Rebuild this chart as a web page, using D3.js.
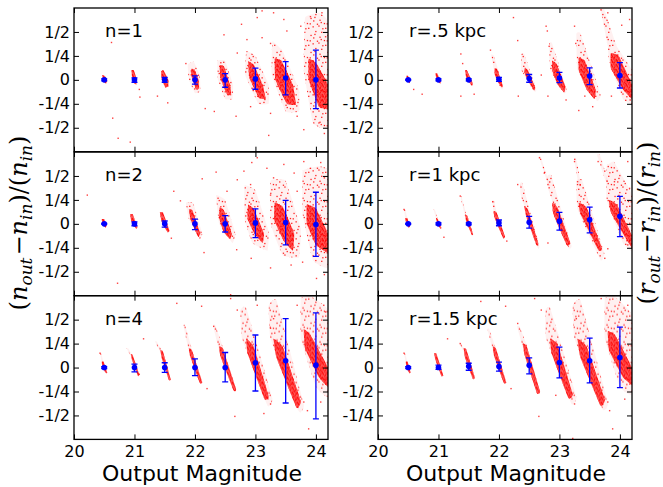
<!DOCTYPE html>
<html>
<head>
<meta charset="utf-8">
<script src="https://d3js.org/d3.v7.min.js"></script>
<style>
	body { margin:0; background:#fff; }
	svg { font-family: "DejaVu Sans", sans-serif; }
</style>
</head>
<body>
<script>
// ---------- data ----------
var magnitudes = [20.5, 21, 21.5, 22, 22.5, 23, 23.5, 24];
var xTicks = [20, 21, 22, 23, 24];
var yTickValues = [0.5, 0.25, 0, -0.25, -0.5];
var yTickLabels = ["1/2", "1/4", "0", "-1/4", "-1/2"];
var yTickLabelsLast = ["1/2", "1/4", "0", "-1/2", "-1/4"];   // as printed on the r=1.5 kpc panel
var panelLabels = ["n=1", "r=.5 kpc", "n=2", "r=1 kpc", "n=4", "r=1.5 kpc"];

// blue points: mean and error bar ends
var n1Mean = [0, 0, 0, 0, 0, 0.01, 0.02, 0];
var n1Lo   = [-0.01, -0.025, -0.025, -0.045, -0.077, -0.098, -0.157, -0.30];
var n1Hi   = [0.01, 0.02, 0.025, 0.042, 0.066, 0.122, 0.19, 0.31];
var r05Mean = [0, 0, 0, 0.005, 0.014, 0.02, 0.04, 0.045];
var r05Lo   = [-0.005, -0.01, -0.01, -0.015, -0.025, -0.03, -0.05, -0.085];
var r05Hi   = [0.005, 0.01, 0.01, 0.025, 0.056, 0.077, 0.126, 0.18];
var n2Mean = [0, 0, 0, 0, 0, 0.01, 0.014, -0.007];
var n2Lo   = [-0.005, -0.02, -0.035, -0.06, -0.085, -0.143, -0.22, -0.34];
var n2Hi   = [0.005, 0.02, 0.03, 0.05, 0.085, 0.157, 0.245, 0.33];
var r1Mean = [0, 0, 0, 0.01, 0.017, 0.028, 0.042, 0.08];
var r1Lo   = [-0.005, -0.01, -0.01, -0.02, -0.045, -0.066, -0.094, -0.133];
var r1Hi   = [0.005, 0.01, 0.01, 0.04, 0.077, 0.12, 0.175, 0.287];
var n4Mean = [0, 0, 0, 0, 0, 0.05, 0.07, 0.025];
var n4Lo   = [-0.01, -0.045, -0.05, -0.085, -0.15, -0.245, -0.37, -0.535];
var n4Hi   = [0.01, 0.035, 0.05, 0.09, 0.157, 0.34, 0.51, 0.57];
var r15Mean = [0, 0, 0.014, 0.01, 0.024, 0.052, 0.07, 0.105];
var r15Lo   = [-0.01, -0.02, -0.028, -0.038, -0.066, -0.108, -0.16, -0.21];
var r15Hi   = [0.01, 0.025, 0.045, 0.056, 0.1, 0.213, 0.308, 0.423];

// dense cores of the red clouds (outline points, magnitude / fraction)
var n1Core = [
	[[20.47,0.05],[20.51,0.04],[20.55,-0.01],[20.53,-0.04],[20.48,-0.01]],
	[[20.95,0.1],[20.99,0.1],[21.04,0.0],[21.03,-0.05],[20.97,-0.02]],
	[[21.44,0.09],[21.48,0.1],[21.56,0.0],[21.56,-0.07],[21.51,-0.08],[21.45,0.0]],
	[[21.93,0.1],[21.99,0.11],[22.06,0.0],[22.07,-0.09],[22.02,-0.1],[21.95,0.02]],
	[[22.41,0.15],[22.48,0.14],[22.58,-0.05],[22.6,-0.16],[22.53,-0.15],[22.42,0.02]],
	[[22.88,0.19],[22.97,0.16],[23.12,-0.05],[23.17,-0.2],[23.06,-0.19],[22.9,0.02]],
	[[23.32,0.22],[23.43,0.2],[23.62,-0.05],[23.67,-0.26],[23.52,-0.25],[23.33,0.0]],
	[[23.88,0.22],[24.0,0.18],[24.2,-0.05],[24.2,-0.3],[24.05,-0.28],[23.88,0.0]]
];
var n1Halo = [
	[[21.88,0.16],[21.98,0.19],[22.08,0.05],[22.09,-0.12],[22.0,-0.14],[21.9,0.0]],
	[[22.37,0.2],[22.5,0.2],[22.63,-0.05],[22.62,-0.2],[22.5,-0.2],[22.38,0.0]],
	[[22.85,0.3],[23.0,0.25],[23.22,-0.05],[23.22,-0.25],[23.05,-0.25],[22.83,0.05]],
	[[23.28,0.4],[23.45,0.3],[23.72,-0.1],[23.72,-0.33],[23.5,-0.33],[23.27,0.05]],
	[[23.82,0.65],[24.05,0.7],[24.2,0.6],[24.2,-0.5],[23.95,-0.45],[23.8,0.1]]
];
var n1Dots = [[20.62,0.39],[20.73,-0.61],[20.64,-0.4],[20.93,-0.65],[21.08,-0.1],[21.09,-0.18],[21.55,-0.24],
	[21.38,-0.17],[21.85,0.17],[22.17,-0.3],[22.32,-0.33],[22.68,-0.38],[22.77,0.58],[22.86,0.42],[22.48,0.47],
	[23.11,0.44],[23.22,-0.58],[22.92,-0.28],[23.03,0.65],[23.11,0.72],[23.3,0.7],[23.47,0.63],[23.25,0.38],
	[23.52,0.51],[23.75,0.56],[23.91,0.66],[24.1,0.7],[24.16,0.45],[23.25,-0.35],[23.69,-0.38],[23.8,-0.52],
	[24.05,-0.45],[24.14,-0.56],[23.36,0.14],[22.7,0.28]];

var r05Core = [
	[[20.47,0.04],[20.5,0.04],[20.53,-0.02],[20.52,-0.035],[20.48,0.0]],
	[[20.95,0.07],[20.98,0.07],[21.04,-0.02],[21.03,-0.04],[20.97,0.0]],
	[[21.44,0.1],[21.47,0.1],[21.57,-0.04],[21.55,-0.06],[21.46,0.02]],
	[[21.93,0.12],[21.97,0.11],[22.06,-0.05],[22.05,-0.08],[21.98,-0.02],[21.93,0.06]],
	[[22.43,0.13],[22.48,0.1],[22.6,-0.08],[22.58,-0.11],[22.47,0.0],[22.42,0.08]],
	[[22.88,0.2],[22.95,0.17],[23.1,-0.07],[23.08,-0.13],[22.97,-0.05],[22.88,0.1]],
	[[23.32,0.23],[23.42,0.2],[23.6,-0.1],[23.58,-0.2],[23.45,-0.1],[23.32,0.1]],
	[[23.85,0.28],[23.98,0.25],[24.2,-0.05],[24.2,-0.2],[24.05,-0.1],[23.85,0.12]]
];
var r05Halo = [
	[[21.87,0.26],[21.92,0.25],[22.07,-0.07],[22.05,-0.1],[21.95,0.0]],
	[[22.37,0.27],[22.42,0.27],[22.62,-0.1],[22.58,-0.12],[22.37,0.1]],
	[[22.83,0.38],[22.88,0.38],[23.12,-0.1],[23.08,-0.14],[22.85,0.1]],
	[[23.28,0.48],[23.35,0.48],[23.68,-0.15],[23.62,-0.22],[23.3,0.1]],
	[[23.68,0.74],[23.74,0.74],[23.95,0.35],[24.2,0.1],[24.2,-0.25],[24.05,-0.2],[23.82,0.2],[23.8,0.35]]
];
var r05Dots = [[20.59,-0.1],[20.73,-0.15],[21.37,0.27],[21.4,0.17],[21.37,-0.17],[21.59,-0.15],[21.86,0.31],
	[22.24,0.65],[22.31,0.41],[22.32,-0.17],[22.7,0.05],[22.78,0.56],[22.8,0.51],[22.81,-0.17],[22.83,0.35],
	[23.25,0.56],[23.27,0.38],[23.32,-0.32],[23.42,-0.17],[23.69,0.73],[23.75,0.65],[23.8,0.7],[24.03,0.57],
	[24.16,0.63],[23.86,-0.17],[24.17,-0.21],[23.11,-0.21],[23.55,-0.28]];

var n2Core = [
	[[20.46,0.05],[20.5,0.05],[20.54,-0.02],[20.52,-0.04],[20.47,0.0]],
	[[20.93,0.1],[20.97,0.1],[21.05,-0.03],[21.03,-0.05],[20.95,0.02]],
	[[21.42,0.12],[21.47,0.12],[21.58,-0.07],[21.55,-0.09],[21.45,0.02]],
	[[21.9,0.15],[21.96,0.14],[22.09,-0.1],[22.05,-0.13],[21.93,0.04]],
	[[22.41,0.17],[22.48,0.14],[22.61,-0.1],[22.58,-0.16],[22.47,-0.08],[22.4,0.06]],
	[[22.88,0.2],[22.97,0.16],[23.14,-0.1],[23.12,-0.2],[22.98,-0.1],[22.87,0.05]],
	[[23.32,0.22],[23.45,0.18],[23.64,-0.1],[23.62,-0.28],[23.47,-0.18],[23.31,0.04]],
	[[23.85,0.2],[24.0,0.16],[24.2,-0.1],[24.2,-0.3],[24.0,-0.22],[23.85,0.0]]
];
var n2Halo = [
	[[21.85,0.22],[21.97,0.22],[22.12,-0.1],[22.08,-0.16],[21.9,0.05]],
	[[22.35,0.3],[22.5,0.25],[22.67,-0.1],[22.62,-0.2],[22.4,0.0]],
	[[22.82,0.4],[23.0,0.35],[23.22,-0.08],[23.2,-0.28],[22.95,-0.2],[22.82,0.05]],
	[[23.25,0.45],[23.5,0.45],[23.75,-0.05],[23.72,-0.35],[23.45,-0.33],[23.25,0.0]],
	[[23.78,0.55],[24.05,0.6],[24.2,0.55],[24.2,-0.45],[23.95,-0.38],[23.78,0.1]]
];
var n2Dots = [[20.22,0.3],[20.72,-0.62],[21.65,0.34],[21.76,0.24],[21.61,-0.15],[22.12,0.47],[22.35,0.54],
	[22.53,0.34],[22.7,0.46],[22.81,0.55],[22.94,0.64],[23.03,0.69],[23.19,0.58],[23.3,0.48],[23.47,0.62],
	[23.64,0.53],[23.8,0.65],[23.91,0.58],[24.08,0.64],[24.14,0.48],[22.92,0.41],[23.25,0.3],[23.69,0.34],
	[22.15,-0.3],[22.69,-0.27],[22.93,-0.36],[23.25,-0.46],[23.59,-0.43],[23.78,-0.4],[24.01,-0.57],
	[24.14,-0.53],[22.59,-0.74]];

var r1Core = [
	[[20.45,0.06],[20.49,0.05],[20.53,-0.02],[20.51,-0.04],[20.46,0.02]],
	[[20.96,0.06],[20.99,0.05],[21.05,-0.04],[21.03,-0.05],[20.98,0.0]],
	[[21.44,0.1],[21.48,0.08],[21.57,-0.1],[21.55,-0.11],[21.46,0.02]],
	[[21.91,0.13],[21.96,0.12],[22.1,-0.13],[22.07,-0.15],[21.93,0.06]],
	[[22.42,0.18],[22.48,0.15],[22.65,-0.2],[22.62,-0.22],[22.45,0.08]],
	[[22.88,0.22],[22.97,0.17],[23.18,-0.2],[23.12,-0.22],[22.9,0.1]],
	[[23.32,0.22],[23.45,0.17],[23.7,-0.25],[23.65,-0.28],[23.35,0.1]],
	[[23.82,0.25],[23.95,0.2],[24.2,-0.12],[24.2,-0.25],[24.05,-0.1],[23.85,0.12]]
];
var r1Halo = [
	[[20.43,0.15],[20.45,0.15],[20.5,0.02],[20.46,0.03]],
	[[20.92,0.15],[20.94,0.15],[20.99,0.05],[20.96,0.05]],
	[[21.36,0.29],[21.38,0.29],[21.47,0.08],[21.44,0.08]],
	[[21.89,0.24],[21.92,0.24],[21.96,0.12],[21.91,0.12]],
	[[22.35,0.42],[22.39,0.42],[22.67,-0.23],[22.63,-0.24],[22.36,0.3]],
	[[22.8,0.5],[22.87,0.5],[23.2,-0.22],[23.15,-0.25],[22.82,0.35]],
	[[22.66,0.7],[22.69,0.7],[22.85,0.4],[22.82,0.4]],
	[[23.28,0.45],[23.38,0.45],[23.74,-0.3],[23.68,-0.38],[23.3,0.15]],
	[[23.24,0.68],[23.28,0.68],[23.36,0.4],[23.32,0.4]],
	[[23.78,0.6],[23.9,0.65],[24.2,0.3],[24.2,-0.28],[24.05,-0.2],[23.78,0.25]],
	[[23.62,0.72],[23.67,0.72],[23.8,0.45],[23.76,0.45]]
];
var r1Dots = [[20.43,0.15],[21.09,-0.14],[21.36,0.29],[21.56,-0.11],[21.9,0.23],[22.13,-0.18],[22.31,0.41],
	[22.67,0.69],[22.75,0.53],[22.81,0.41],[22.64,-0.22],[22.81,-0.2],[23.14,-0.22],[23.25,0.65],[23.3,0.44],
	[23.33,0.3],[23.75,-0.36],[23.8,-0.26],[23.64,0.65],[23.75,0.55],[23.91,0.44],[24.13,0.65],[24.16,0.37],
	[24.13,-0.22]];

var n4Core = [
	[[20.46,0.06],[20.49,0.06],[20.55,-0.05],[20.53,-0.06],[20.47,0.0]],
	[[20.94,0.14],[20.97,0.13],[21.08,-0.07],[21.06,-0.09],[20.96,0.08]],
	[[21.43,0.18],[21.47,0.17],[21.6,-0.12],[21.57,-0.13],[21.45,0.1]],
	[[21.9,0.2],[21.95,0.18],[22.12,-0.15],[22.08,-0.16],[21.92,0.12]],
	[[22.4,0.22],[22.46,0.2],[22.68,-0.22],[22.64,-0.24],[22.42,0.12]],
	[[22.85,0.3],[22.97,0.22],[23.22,-0.3],[23.15,-0.33],[22.87,0.15]],
	[[23.3,0.3],[23.45,0.22],[23.75,-0.35],[23.68,-0.42],[23.35,0.1]],
	[[23.8,0.4],[23.9,0.35],[24.2,0.0],[24.2,-0.2],[24.05,-0.1],[23.82,0.2]]
];
var n4Halo = [
	[[20.43,0.15],[20.45,0.15],[20.49,0.05],[20.46,0.05]],
	[[20.87,0.2],[20.9,0.2],[20.97,0.12],[20.94,0.12]],
	[[21.34,0.27],[21.37,0.27],[21.47,0.16],[21.43,0.16]],
	[[21.81,0.44],[21.84,0.44],[21.96,0.17],[21.9,0.17]],
	[[22.3,0.44],[22.34,0.44],[22.48,0.18],[22.4,0.18]],
	[[22.75,0.6],[22.85,0.62],[23.28,-0.32],[23.2,-0.4],[22.78,0.3]],
	[[23.22,0.65],[23.35,0.7],[23.8,-0.38],[23.72,-0.46],[23.25,0.3]],
	[[23.75,0.72],[23.9,0.75],[24.2,0.6],[24.2,-0.3],[24.0,-0.2],[23.75,0.3]]
];
var n4Dots = [[20.43,0.15],[21.15,0.3],[21.08,-0.07],[21.7,0.67],[22.11,0.64],[22.2,-0.22],[22.31,0.43],
	[22.59,0.72],[22.66,-0.24],[22.7,0.6],[23.03,0.65],[22.66,-0.51],[23.14,-0.48],[23.25,-0.38],[23.3,0.51],
	[23.25,0.41],[23.69,0.65],[23.8,-0.36],[23.86,-0.45],[23.88,-0.64],[24.13,0.65],[24.16,0.58],[24.08,-0.36]];

var r15Core = [
	[[20.46,0.06],[20.49,0.06],[20.54,-0.05],[20.52,-0.06],[20.47,0.0]],
	[[20.93,0.15],[20.97,0.14],[21.08,-0.08],[21.05,-0.09],[20.95,0.08]],
	[[21.42,0.2],[21.46,0.19],[21.6,-0.1],[21.57,-0.12],[21.44,0.1]],
	[[21.9,0.22],[21.95,0.2],[22.12,-0.15],[22.08,-0.16],[21.92,0.12]],
	[[22.4,0.25],[22.46,0.22],[22.68,-0.25],[22.63,-0.27],[22.42,0.14]],
	[[22.85,0.3],[22.97,0.24],[23.22,-0.28],[23.15,-0.32],[22.87,0.15]],
	[[23.3,0.3],[23.45,0.22],[23.75,-0.33],[23.68,-0.4],[23.35,0.1]],
	[[23.8,0.38],[23.92,0.34],[24.2,0.0],[24.2,-0.18],[24.05,-0.1],[23.82,0.18]]
];
var r15Halo = [
	[[20.43,0.15],[20.45,0.15],[20.49,0.05],[20.46,0.05]],
	[[21.34,0.26],[21.37,0.26],[21.45,0.16],[21.42,0.16]],
	[[21.81,0.4],[21.84,0.4],[21.96,0.18],[21.9,0.18]],
	[[22.3,0.43],[22.34,0.43],[22.48,0.2],[22.4,0.2]],
	[[22.77,0.6],[22.85,0.62],[23.28,-0.3],[23.2,-0.38],[22.78,0.3]],
	[[23.22,0.65],[23.35,0.7],[23.8,-0.36],[23.72,-0.44],[23.25,0.3]],
	[[23.75,0.72],[23.9,0.75],[24.2,0.55],[24.2,-0.28],[24.0,-0.2],[23.75,0.3]]
];
var r15Dots = [[20.43,0.15],[21.15,0.3],[21.36,0.25],[21.7,0.69],[22.11,0.64],[22.2,-0.22],[22.31,0.46],
	[22.59,0.72],[22.66,-0.51],[22.7,0.6],[22.94,-0.29],[23.25,-0.38],[23.28,0.51],[23.69,0.72],[23.8,-0.36],
	[23.88,-0.64],[23.83,-0.45],[24.13,0.65],[24.08,-0.33],[23.22,-0.74]];

// ---------- layout ----------
var W = 663, H = 487;
var colX = [74, 378], colW = 254;
var rowY = [8, 152, 295.7], rowH = 143.7;

var panels = [
	{label: panelLabels[0], col: 0, row: 0, mean: n1Mean, lo: n1Lo, hi: n1Hi, core: n1Core, halo: n1Halo, dots: n1Dots, ylab: yTickLabels},
	{label: panelLabels[1], col: 1, row: 0, mean: r05Mean, lo: r05Lo, hi: r05Hi, core: r05Core, halo: r05Halo, dots: r05Dots, ylab: yTickLabels},
	{label: panelLabels[2], col: 0, row: 1, mean: n2Mean, lo: n2Lo, hi: n2Hi, core: n2Core, halo: n2Halo, dots: n2Dots, ylab: yTickLabels},
	{label: panelLabels[3], col: 1, row: 1, mean: r1Mean, lo: r1Lo, hi: r1Hi, core: r1Core, halo: r1Halo, dots: r1Dots, ylab: yTickLabels},
	{label: panelLabels[4], col: 0, row: 2, mean: n4Mean, lo: n4Lo, hi: n4Hi, core: n4Core, halo: n4Halo, dots: n4Dots, ylab: yTickLabels},
	{label: panelLabels[5], col: 1, row: 2, mean: r15Mean, lo: r15Lo, hi: r15Hi, core: r15Core, halo: r15Halo, dots: r15Dots, ylab: yTickLabelsLast}
];

var svg = d3.select("body").append("svg")
	.attr("width", W)
	.attr("height", H);
svg.append("rect").attr("width", W).attr("height", H).attr("fill", "#fff");

// speckle textures: sparse one for the thin parts, dense one for the cores
var defs = svg.append("defs");
function speckle(id, size, spots) {
	var pat = defs.append("pattern").attr("id", id)
		.attr("patternUnits", "userSpaceOnUse").attr("width", size).attr("height", size);
	spots.forEach(function(s) {
		pat.append("rect").attr("x", s[0]).attr("y", s[1]).attr("width", 1.3).attr("height", 1.3)
			.attr("fill", "#ff0000").attr("opacity", 0.85);
	});
}
speckle("sparse", 17, [[0.5,1.2],[6.3,0.4],[13.1,2.7],[9.1,6.7],[3.2,5.9],[15.4,9.8],[7.4,11.6],
	[1.1,12.3],[11.8,14.9],[4.8,15.6],[10.2,3.1],[14.6,15.2],[2.3,8.8],[8.6,13.9]]);
speckle("dense", 5, [[0.2,0.3],[2.6,0.9],[1.3,2.4],[3.7,3.1],[0.6,4.0],[3.2,1.8]]);

panels.forEach(function(p, i) {
	var x0 = colX[p.col], y0 = rowY[p.row];
	var x = d3.scaleLinear().domain([20, 24.2]).range([0, colW]);
	var y = d3.scaleLinear().domain([-0.75, 0.75]).range([rowH, 0]);

	var g = svg.append("g").attr("transform", "translate(" + x0 + "," + y0 + ")");

	defs.append("clipPath").attr("id", "clip" + i)
		.append("rect").attr("width", colW).attr("height", rowH);

	var plot = g.append("g").attr("clip-path", "url(#clip" + i + ")");

	var shape = d3.line()
		.x(function(d) { return x(d[0]); })
		.y(function(d) { return y(d[1]); })
		.curve(d3.curveCardinalClosed.tension(0.75));

	// thin part of the clouds
	plot.selectAll("path.haloBg").data(p.halo).enter().append("path")
		.attr("d", shape).attr("fill", "#ff0000").attr("opacity", 0.06);
	plot.selectAll("path.halo").data(p.halo).enter().append("path")
		.attr("d", shape).attr("fill", "url(#sparse)");
	// dense cores
	plot.selectAll("path.coreBg").data(p.core).enter().append("path")
		.attr("d", shape).attr("fill", "#ff0000").attr("opacity", 0.65);
	plot.selectAll("path.core").data(p.core).enter().append("path")
		.attr("d", shape).attr("fill", "url(#dense)");
	// scattered points
	plot.selectAll("rect.dot").data(p.dots).enter().append("rect")
		.attr("x", function(d) { return x(d[0]) - 0.7; })
		.attr("y", function(d) { return y(d[1]) - 0.7; })
		.attr("width", 1.4).attr("height", 1.4)
		.attr("fill", "#ff0000").attr("opacity", 0.75);

	// error bars + means
	magnitudes.forEach(function(m, k) {
		var cx = x(m);
		plot.append("line").attr("x1", cx).attr("x2", cx)
			.attr("y1", y(p.lo[k])).attr("y2", y(p.hi[k]))
			.attr("stroke", "#0000ff").attr("stroke-width", 1.3);
		[p.lo[k], p.hi[k]].forEach(function(v) {
			plot.append("line").attr("x1", cx - 3).attr("x2", cx + 3)
				.attr("y1", y(v)).attr("y2", y(v))
				.attr("stroke", "#0000ff").attr("stroke-width", 1.3);
		});
		plot.append("circle").attr("cx", cx).attr("cy", y(p.mean[k]))
			.attr("r", 2.8).attr("fill", "#0000ff");
	});

	// axes with inward ticks
	g.append("g")
		.call(d3.axisLeft(y).tickValues(yTickValues)
			.tickFormat(function(d, j) { return p.ylab[j]; })
			.tickSizeInner(-5).tickSizeOuter(0).tickPadding(4));
	g.append("g").attr("transform", "translate(" + colW + ",0)")
		.call(d3.axisRight(y).tickValues(yTickValues).tickFormat("").tickSizeInner(-5).tickSizeOuter(0));
	g.append("g")
		.call(d3.axisTop(x).tickValues(xTicks).tickFormat("").tickSizeInner(-5).tickSizeOuter(0));
	if (p.row === 2) {
		g.append("g").attr("transform", "translate(0," + rowH + ")")
			.call(d3.axisBottom(x).tickValues(xTicks).tickFormat(d3.format("d"))
				.tickSizeInner(-5).tickSizeOuter(0).tickPadding(6));
	} else {
		g.append("g").attr("transform", "translate(0," + rowH + ")")
			.call(d3.axisBottom(x).tickValues(xTicks).tickFormat("").tickSizeInner(-5).tickSizeOuter(0));
	}
	g.selectAll(".domain").remove();
	g.selectAll(".tick line").attr("stroke", "#000").attr("stroke-width", 1);
	g.selectAll(".tick text").attr("font-size", 16).attr("fill", "#000")
		.attr("font-family", "DejaVu Sans");

	g.append("rect").attr("width", colW).attr("height", rowH)
		.attr("fill", "none").attr("stroke", "#000").attr("stroke-width", 1.3);

	g.append("text").attr("x", 31).attr("y", 29)
		.attr("font-size", 18).text(p.label);
});

// x titles
[0, 1].forEach(function(c) {
	svg.append("text")
		.attr("x", colX[c] + 128).attr("y", 481)
		.attr("text-anchor", "middle")
		.attr("font-size", 22)
		.text("Output Magnitude");
});

// y titles (math style)
function mathLabel(xPos, v) {
	var t = svg.append("text")
		.attr("transform", "translate(" + xPos + ",223) rotate(-90)")
		.attr("text-anchor", "middle")
		.attr("font-family", "DejaVu Serif")
		.attr("font-size", 24);
	var parts = [["(", 0], [v, 1], ["out", 2], ["\u2212", 0], [v, 1], ["in", 2], [")/(", 0], [v, 1], ["in", 2], [")", 0]];
	var down = false;
	parts.forEach(function(q) {
		var s = t.append("tspan").text(q[0]);
		if (q[1] > 0) s.attr("font-style", "italic");
		if (q[1] === 2) { s.attr("font-size", 17).attr("dy", 5); down = true; }
		else if (down) { s.attr("dy", -5); down = false; }
		if (q[0] === "\u2212") s.attr("dx", 2);
	});
}
mathLabel(27, "n");
mathLabel(655, "r");
</script>
</body>
</html>
